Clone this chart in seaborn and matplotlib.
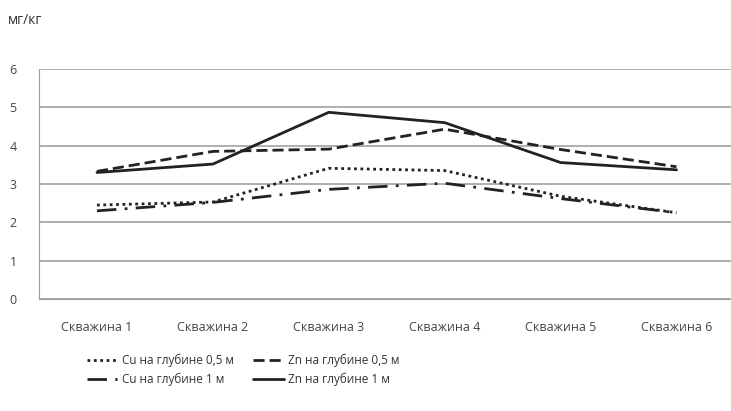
import pandas as pd
import numpy as np
import matplotlib
matplotlib.use('Agg')
import matplotlib.pyplot as plt
import seaborn as sns

sns.set_style('white')
plt.rcParams['font.family'] = ['Open Sans', 'DejaVu Sans']

# данные по скважинам (мг/кг)
wells = ['Скважина 1', 'Скважина 2', 'Скважина 3', 'Скважина 4', 'Скважина 5', 'Скважина 6']
cu_05 = [2.45, 2.53, 3.41, 3.35, 2.68, 2.25]
zn_05 = [3.33, 3.85, 3.91, 4.43, 3.90, 3.45]
cu_1 = [2.30, 2.52, 2.86, 3.02, 2.62, 2.25]
zn_1 = [3.30, 3.52, 4.87, 4.60, 3.56, 3.37]
series = ['Cu на глубине 0,5 м', 'Zn на глубине 0,5 м', 'Cu на глубине 1 м', 'Zn на глубине 1 м']

df = pd.DataFrame({
    'well': wells * 4,
    'pos': list(range(len(wells))) * 4,
    'value': cu_05 + zn_05 + cu_1 + zn_1,
    'series': [s for s in series for _ in wells],
})

dashes = {
    series[0]: (1, 1.3),
    series[1]: (4, 1.8),
    series[2]: (7, 3, 1, 3),
    series[3]: '',
}

fig = plt.figure(figsize=(7.31, 4.11), dpi=100)
ax = fig.add_axes([39 / 731, 1 - 299 / 411, 1 - 39 / 731, (299 - 69) / 411])

sns.lineplot(data=df, x='pos', y='value', hue='series', style='series',
             palette=['#222222'] * 4, dashes=dashes, linewidth=2,
             ax=ax, legend=True)

ax.set_xlim(-0.5, 5.47)
ax.set_ylim(0, 6)
ax.set_yticks(range(0, 7))
ax.set_xticks(range(len(wells)))
ax.set_xticklabels(wells)
ax.set_xticks(np.arange(-0.5, 5.5, 1), minor=True)
ax.tick_params(axis='x', which='major', length=0, pad=16, labelsize=9, labelcolor='#444444')
ax.tick_params(axis='x', which='minor', length=4, color='#999999', direction='out')
ax.tick_params(axis='y', length=4, color='#999999', pad=12, labelsize=9, labelcolor='#444444')
ax.grid(axis='y', color='#999999', linewidth=1.1)
ax.set_axisbelow(True)
ax.set_xlabel('')
ax.set_ylabel('')
for s in ['top', 'right']:
    ax.spines[s].set_visible(False)
for s in ['left', 'bottom']:
    ax.spines[s].set_color('#999999')

fig.text(8 / 731, 1 - 20 / 411, 'мг/кг', fontsize=10, color='#333333', va='center')

# порядок легенды: в строку Cu 0,5 / Zn 0,5, затем Cu 1 / Zn 1
handles, labels = ax.get_legend_handles_labels()
ax.get_legend().remove()
order = [0, 2, 1, 3]
fig.legend([handles[i] for i in order], [labels[i] for i in order],
           loc='upper left', bbox_to_anchor=(76 / 731, 1 - 343 / 411),
           ncol=2, frameon=False, fontsize=8.5, handlelength=2.6, handletextpad=0.4,
           columnspacing=1.6, labelspacing=0.5, labelcolor='#333333')

fig.savefig('out.png', dpi=100)
